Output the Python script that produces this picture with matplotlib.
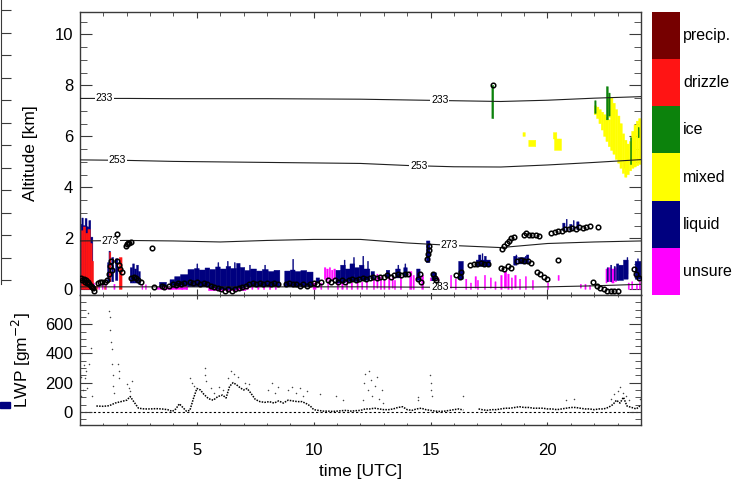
import numpy as np
import matplotlib
matplotlib.use("Agg")
import matplotlib.pyplot as plt
from matplotlib.ticker import MultipleLocator
from matplotlib.colors import ListedColormap
from matplotlib.patches import Rectangle

plt.rcParams['font.family'] = ['Liberation Sans', 'DejaVu Sans']

# ---------------------------------------------------------------- classes
class_names = ['precip.', 'drizzle', 'ice', 'mixed', 'liquid', 'unsure']
class_colors = ['#760000', '#ff1414', '#0c820c', '#ffff00', '#00007f', '#ff00ff']

# cloud-class blocks: (start [h], end [h], base [km], top [km])
liquid_blocks = [
    (0.00, 0.08, 0.0, 2.55), (0.08, 0.14, 0.0, 2.80), (0.14, 0.22, 0.0, 2.50),
    (0.22, 0.30, 0.0, 2.78), (0.30, 0.38, 0.0, 2.45), (0.38, 0.46, 0.0, 2.70),
    (0.46, 0.55, 0.0, 2.05),
    (1.18, 1.24, 0.30, 1.05), (1.24, 1.30, 0.30, 1.50), (1.36, 1.44, 0.30, 1.25),
    (1.52, 1.62, 0.35, 1.20),
    (2.15, 2.25, 0.25, 0.85), (2.25, 2.33, 0.25, 1.00), (2.33, 2.42, 0.25, 0.80),
    (2.42, 2.50, 0.25, 0.95), (2.50, 2.58, 0.20, 0.70),
    (3.40, 3.70, 0.10, 0.28), (3.85, 4.05, 0.15, 0.38), (4.05, 4.30, 0.15, 0.50),
    (4.30, 4.62, 0.15, 0.58),
    (4.62, 4.90, 0.10, 0.78), (4.90, 5.10, 0.10, 0.82), (5.10, 5.35, 0.10, 0.76),
    (5.35, 5.55, 0.10, 0.84), (5.55, 5.80, 0.05, 0.78), (5.80, 6.00, 0.00, 0.88),
    (6.00, 6.25, 0.00, 0.80), (6.25, 6.45, 0.00, 0.90), (6.45, 6.70, 0.00, 0.82),
    (6.70, 6.85, 0.05, 1.02), (6.85, 7.05, 0.05, 0.86), (7.05, 7.30, 0.10, 0.74),
    (7.30, 7.55, 0.10, 0.80), (7.55, 7.80, 0.10, 0.72), (7.80, 8.05, 0.10, 0.78),
    (8.05, 8.30, 0.10, 0.70), (8.30, 8.55, 0.10, 0.75),
    (8.76, 9.00, 0.10, 0.72), (9.00, 9.20, 0.10, 0.76), (9.20, 9.45, 0.10, 0.70),
    (9.45, 9.70, 0.10, 0.74), (9.70, 9.97, 0.10, 0.68),
    (10.10, 10.25, 0.25, 0.45),
    (10.95, 11.15, 0.25, 0.75), (11.15, 11.35, 0.25, 0.95), (11.35, 11.55, 0.30, 0.80),
    (11.55, 11.75, 0.30, 1.00), (11.75, 11.95, 0.30, 0.85), (11.95, 12.15, 0.35, 0.95),
    (12.15, 12.40, 0.35, 0.80), (12.45, 12.60, 0.40, 0.70),
    (13.10, 13.25, 0.45, 0.75), (13.50, 13.70, 0.45, 0.80), (13.85, 14.00, 0.50, 0.85),
    (14.40, 14.55, 0.35, 0.80), (14.82, 14.97, 1.05, 1.90), (15.05, 15.25, 0.30, 0.65),
    (16.20, 16.40, 0.40, 1.10), (16.95, 17.55, 0.90, 1.15), (17.05, 17.15, 1.10, 1.35),
    (17.30, 17.38, 1.10, 1.30), (18.55, 18.70, 0.95, 1.30), (18.75, 19.05, 1.00, 1.25),
    (19.10, 19.20, 1.00, 1.35),
    (20.65, 20.75, 2.30, 2.60), (20.95, 21.05, 2.30, 2.55), (21.25, 21.35, 2.35, 2.65),
    (22.55, 22.60, 0.30, 0.85), (22.70, 22.75, 0.30, 0.95), (22.85, 22.90, 0.35, 0.90),
    (22.95, 23.05, 0.35, 1.00),
    (23.05, 23.25, 0.35, 0.95), (23.25, 23.45, 0.40, 1.15), (23.75, 24.00, 0.40, 1.10),
    # narrow spikes above the liquid layers
    (5.00, 5.04, 0.60, 1.00), (5.90, 5.94, 0.60, 1.05), (6.30, 6.34, 0.60, 1.10),
    (6.60, 6.64, 0.60, 1.05), (7.25, 7.29, 0.50, 0.95), (7.90, 7.94, 0.50, 0.95),
    (9.10, 9.14, 0.50, 1.18), (11.30, 11.34, 0.60, 1.15), (11.70, 11.74, 0.60, 1.25),
    (12.10, 12.14, 0.60, 1.30), (12.30, 12.34, 0.60, 1.10), (13.60, 13.64, 0.50, 0.95),
    (13.90, 13.94, 0.60, 1.00), (17.20, 17.24, 1.00, 1.40), (18.65, 18.69, 1.00, 1.35),
    (19.05, 19.09, 1.00, 1.30), (20.80, 20.84, 2.30, 2.75), (21.10, 21.14, 2.30, 2.70),
    (23.40, 23.44, 0.60, 1.25), (23.85, 23.89, 0.60, 1.20),
]

unsure_blocks = [
    (0.55, 0.62, 0.0, 0.25), (0.80, 0.84, 0.0, 0.20), (0.95, 0.99, 0.0, 0.20),
    (1.10, 1.14, 0.0, 0.22), (1.45, 1.50, 0.0, 0.20), (2.65, 2.69, 0.0, 0.20),
    (2.80, 2.84, 0.0, 0.18), (3.30, 4.60, 0.0, 0.08), (3.90, 3.94, 0.0, 0.18),
    (4.10, 4.14, 0.0, 0.15), (4.35, 4.40, 0.0, 0.20), (4.55, 4.60, 0.0, 0.15),
    (5.50, 7.10, -0.05, 0.05),
    (7.15, 7.21, 0.0, 0.12), (7.35, 7.40, 0.0, 0.10), (7.60, 7.66, 0.0, 0.12),
    (7.85, 7.90, 0.0, 0.10), (8.10, 8.16, 0.0, 0.12), (8.35, 8.40, 0.0, 0.10),
    (9.97, 10.10, 0.0, 0.25),
    (10.45, 10.52, 0.40, 0.85), (10.55, 10.62, 0.35, 0.80), (10.66, 10.72, 0.45, 0.85),
    (10.76, 10.82, 0.35, 0.75), (10.86, 10.93, 0.40, 0.80),
    (10.30, 10.35, 0.0, 0.25), (10.60, 10.64, 0.0, 0.30),
    (11.00, 11.06, 0.0, 0.28), (11.20, 11.26, 0.0, 0.25), (11.40, 11.45, 0.0, 0.30),
    (11.60, 11.66, 0.0, 0.25), (11.85, 11.90, 0.0, 0.30), (12.05, 12.10, 0.0, 0.28),
    (12.25, 12.30, 0.0, 0.32),
    (12.55, 12.60, 0.0, 0.45), (12.70, 12.75, 0.05, 0.60),
    (12.85, 12.90, 0.0, 0.50), (13.00, 13.05, 0.0, 0.40), (13.20, 13.26, 0.0, 0.55),
    (13.35, 13.40, 0.05, 0.45), (13.45, 13.50, 0.0, 0.35), (13.70, 13.76, 0.0, 0.50),
    (14.10, 14.20, 0.0, 0.70), (14.25, 14.30, 0.0, 0.55), (14.62, 14.70, 0.0, 0.55),
    (14.98, 15.03, 0.0, 0.45), (15.30, 15.36, 0.0, 0.45), (15.45, 15.50, 0.0, 0.30),
    (15.65, 15.70, 0.0, 0.25), (15.85, 15.90, 0.05, 0.55), (16.05, 16.10, 0.0, 0.40),
    (16.50, 16.55, 0.0, 0.40), (16.70, 16.75, 0.0, 0.25), (16.90, 16.96, 0.05, 0.50),
    (17.00, 17.05, 0.0, 0.35), (17.30, 17.35, 0.0, 0.55), (17.55, 17.60, 0.05, 0.45),
    (17.75, 17.80, 0.0, 0.30), (18.00, 18.06, 0.0, 0.55), (18.15, 18.25, 0.05, 0.70),
    (18.30, 18.36, 0.0, 0.60), (18.45, 18.50, 0.0, 0.45), (18.60, 18.66, 0.05, 0.55),
    (18.80, 18.85, 0.0, 0.40), (19.05, 19.10, 0.0, 0.50), (19.35, 19.40, 0.0, 0.35),
    (20.00, 20.05, 0.0, 0.25), (20.45, 20.50, 0.35, 0.55), (21.40, 21.45, 0.05, 0.20),
    (21.60, 21.65, 0.0, 0.20), (21.80, 21.84, 0.0, 0.15),
    (22.50, 22.55, 0.25, 0.80), (22.60, 22.70, 0.30, 0.85), (22.75, 22.85, 0.25, 0.80),
    (22.90, 22.95, 0.30, 0.85),
    (23.45, 23.50, 0.0, 0.25), (23.60, 23.65, 0.0, 0.30), (23.80, 23.85, 0.0, 0.20),
    (23.93, 23.98, 0.0, 0.30),
]

drizzle_blocks = [
    (0.06, 0.14, 0.0, 2.30), (0.14, 0.24, 0.0, 2.45), (0.24, 0.34, 0.0, 2.20),
    (0.34, 0.44, 0.0, 2.35), (0.44, 0.52, 0.0, 1.80), (0.52, 0.58, 0.0, 1.10),
    (0.70, 0.75, 0.0, 0.15), (1.05, 1.09, 0.0, 0.12), (1.26, 1.32, 0.30, 1.45),
    (1.68, 1.80, 0.0, 1.25), (23.30, 23.34, 4.75, 4.98),
]

ice_blocks = [
    (17.62, 17.70, 6.70, 8.00), (22.02, 22.08, 6.90, 7.40), (22.52, 22.60, 6.65, 7.95),
    (22.62, 22.68, 6.80, 7.70), (23.55, 23.60, 4.90, 5.95), (23.88, 23.92, 5.95, 6.35),
]

mixed_blocks = [
    (18.95, 19.05, 6.00, 6.15), (19.20, 19.50, 5.60, 5.85), (20.25, 20.40, 5.90, 6.15),
    (20.30, 20.60, 5.45, 5.90),
    (22.00, 22.10, 6.85, 7.20), (22.10, 22.20, 6.70, 7.15), (22.20, 22.30, 6.50, 7.05),
    (22.30, 22.40, 6.25, 6.95), (22.40, 22.50, 6.00, 6.85), (22.50, 22.60, 5.80, 6.75),
    (22.60, 22.70, 5.60, 6.65), (22.60, 22.70, 6.75, 7.55), (22.70, 22.80, 5.45, 7.50),
    (22.80, 22.90, 5.30, 7.30), (22.90, 23.00, 5.10, 7.05), (23.00, 23.10, 4.95, 6.80),
    (23.10, 23.20, 4.75, 6.50), (23.20, 23.30, 4.55, 6.10), (23.30, 23.40, 4.40, 5.85),
    (23.40, 23.50, 4.50, 5.70), (23.50, 23.60, 4.65, 5.80), (23.60, 23.70, 4.75, 6.20),
    (23.70, 23.80, 4.80, 6.45), (23.80, 23.90, 4.85, 6.60), (23.90, 24.00, 4.90, 6.70),
]

# ceilometer cloud base [h, km]
base_t = [0.05, 0.10, 0.15, 0.20, 0.25, 0.30, 0.35, 0.40, 0.45, 0.50, 0.55, 0.60,
          0.75, 0.85, 0.95, 1.05, 1.15, 1.25, 1.30, 1.32, 1.38, 1.60, 1.65, 1.72, 1.80,
          1.57, 1.95, 2.00, 2.05, 2.10, 2.20, 3.06, 2.20, 2.30, 2.40, 2.50, 2.60, 3.15,
          3.50, 3.60, 3.80, 4.00, 4.10, 4.20, 4.30, 4.45,
          4.70, 4.85, 5.00, 5.15, 5.30, 5.45, 5.60, 5.75, 5.90, 6.05, 6.20, 6.35, 6.50,
          6.65, 6.80, 6.95, 7.10, 7.25, 7.40, 7.55, 7.70, 7.85, 8.00, 8.15, 8.30, 8.45,
          8.80, 8.95, 9.10, 9.25, 9.40, 9.55, 9.70, 9.85, 10.00, 10.15, 10.30,
          10.60, 10.75, 10.90, 11.05, 11.20, 11.35, 11.50, 11.65, 11.80, 11.95, 12.10,
          12.25, 12.40, 12.55, 12.70, 12.85, 13.00, 13.15, 13.30, 13.45, 13.60, 13.75,
          13.90, 14.05, 14.45, 14.55, 14.60, 14.85, 14.88, 14.92, 14.95, 15.10, 15.20,
          15.25, 16.10, 16.25, 16.30, 16.70, 16.85, 17.00, 17.15, 17.30, 17.45, 17.66,
          18.05, 18.15, 18.25, 18.35, 18.45, 18.55, 19.00, 19.10, 19.20, 19.35, 19.50,
          19.65, 20.15, 20.30, 20.45, 20.60, 20.75, 20.90, 21.05, 21.20, 21.35, 21.50,
          21.65, 21.80, 22.15, 18.00, 18.15, 18.30, 18.45, 18.70, 18.85, 19.00, 19.15,
          19.30, 19.55, 19.70, 19.85, 20.00, 20.45, 21.95, 22.10, 22.25, 22.40, 22.55,
          22.70, 22.85, 23.00, 23.70, 23.80, 23.90]
base_z = [0.45, 0.35, 0.40, 0.30, 0.35, 0.25, 0.30, 0.20, 0.15, 0.10, 0.05, -0.05,
          0.25, 0.30, 0.28, 0.30, 0.35, 0.60, 0.90, 1.10, 0.75, 1.10, 0.95, 0.80, 0.70,
          2.18, 1.72, 1.78, 1.80, 1.82, 1.85, 1.64, 0.45, 0.50, 0.45, 0.35, 0.30, 0.10,
          0.15, 0.10, 0.15, 0.20, 0.18, 0.25, 0.20, 0.25,
          0.30, 0.25, 0.30, 0.20, 0.25, 0.20, 0.15, 0.10, 0.05, 0.00, -0.05, 0.00, -0.05,
          0.00, 0.05, 0.10, 0.15, 0.20, 0.25, 0.20, 0.25, 0.20, 0.25, 0.20, 0.25, 0.20,
          0.20, 0.25, 0.20, 0.20, 0.15, 0.20, 0.15, 0.20, 0.25, 0.20, 0.30,
          0.35, 0.30, 0.35, 0.30, 0.35, 0.30, 0.35, 0.40, 0.35, 0.40, 0.45,
          0.40, 0.45, 0.50, 0.45, 0.50, 0.50, 0.55, 0.50, 0.55, 0.60, 0.55,
          0.60, 0.60, 0.40, 0.60, 0.30, 1.20, 1.40, 1.55, 1.70, 0.60, 0.45,
          0.35, 0.55, 0.50, 0.70, 0.95, 1.00, 1.00, 1.05, 1.00, 1.00, 8.02,
          1.60, 1.70, 1.80, 1.90, 2.00, 2.05, 2.15, 2.20, 2.15, 2.12, 2.15,
          2.10, 2.20, 2.25, 2.30, 2.30, 2.35, 2.35, 2.40, 2.35, 2.45, 2.40,
          2.45, 2.50, 2.45, 0.85, 0.80, 0.90, 0.85, 1.10, 1.15, 1.10, 1.12,
          1.05, 0.70, 0.60, 0.50, 0.40, 1.15, 0.30, 0.15, 0.05, 0.00, -0.05,
          -0.05, -0.05, -0.05, 0.80, 0.60, 0.45]

# model isotherm heights [km] on a 2-hourly grid
iso_t = [0, 2, 4, 6, 8, 10, 12, 14, 16, 18, 20, 22, 24]
iso_233 = [7.49, 7.49, 7.48, 7.48, 7.48, 7.47, 7.46, 7.43, 7.40, 7.37, 7.42, 7.50, 7.56]
iso_253 = [5.08, 5.06, 5.02, 5.00, 4.98, 4.96, 4.94, 4.86, 4.81, 4.80, 4.88, 4.98, 5.09]
iso_273 = [1.90, 1.92, 1.90, 1.86, 1.92, 1.96, 1.96, 1.82, 1.72, 1.64, 1.80, 1.86, 1.90]
iso_283 = [0.10, 0.10, 0.10, 0.10, 0.10, 0.10, 0.10, 0.09, 0.08, 0.08, 0.10, 0.14, 0.20]
iso_label_t = {233: [1.05, 15.4], 253: [1.6, 14.5], 273: [1.3, 15.8], 283: [15.4]}

# liquid water path [g m-2]
lwp_t = [0.70, 1.00, 1.25, 1.50, 1.75, 2.00, 2.15, 2.30, 2.50, 2.75, 3.00, 3.25, 3.50,
         3.75, 3.95, 4.10, 4.25, 4.40, 4.55, 4.70, 4.85, 5.00, 5.15, 5.30, 5.50, 5.70,
         5.90, 6.10, 6.25, 6.40, 6.55, 6.70, 6.85, 7.00, 7.15, 7.30, 7.50, 7.70, 7.90,
         8.10, 8.30, 8.50, 8.70, 8.90, 9.10, 9.30, 9.50, 9.70, 9.85, 10.00, 10.20,
         10.40, 10.60, 10.80, 11.00, 11.20, 11.40, 11.60, 11.80, 12.00, 12.20, 12.40,
         12.60, 12.80, 13.00, 13.20, 13.40, 13.60, 13.80, 14.00, 14.20, 14.40, 14.60,
         14.80, 15.00, 15.20, 15.40, 15.60, 15.80, 16.00, 16.20, 16.40, 16.70, 17.05,
         17.20, 17.40, 17.60, 17.80, 18.00, 18.20, 18.40, 18.60, 18.80, 19.00, 19.20,
         19.40, 19.60, 19.80, 20.00, 20.20, 20.40, 20.60, 20.80, 21.00, 21.20, 21.40,
         21.60, 21.80, 22.00, 22.20, 22.40, 22.60, 22.80, 22.95, 23.10, 23.25, 23.40,
         23.60, 23.80, 23.95]
lwp = [40, 38, 42, 60, 70, 80, 105, 70, 25, 20, 20, 22, 20,
       15, 3, 20, 55, 30, 5, 10, 90, 160, 150, 120, 90, 80,
       105, 115, 95, 175, 200, 185, 165, 150, 160, 130, 85, 70, 65,
       70, 60, 75, 60, 80, 75, 70, 70, 55, 40, 15, 10,
       5, 5, 3, 5, 8, 10, 5, 8, 10, 20, 20,
       25, 20, 15, 15, 20, 30, 35, 15, 10, 20, 25,
       15, 10, 5, 3, 5, 10, 15, 20, 12, np.nan, 20,
       15, 10, 15, 15, 20, 25, 25, 30, 35, 30, 30,
       25, 25, 25, 20, 20, 15, 20, 25, 30, 30, 25,
       20, 20, 15, 20, 20, 30, 50, 80, 60, 100, 40,
       30, 20, 40]
lwp_scatter_t = [0.03, 0.06, 0.10, 0.13, 0.17, 0.20, 0.25, 0.30, 0.35, 0.40, 0.45, 0.50,
                 1.24, 1.27, 1.30, 1.33, 1.35, 1.38, 1.40, 1.43, 1.46, 1.64, 1.66, 1.68,
                 2.02, 2.08, 2.14, 2.22, 4.72, 4.80, 4.88, 5.33, 5.35, 5.37, 5.60, 5.75,
                 5.95, 6.10, 6.35, 6.45, 6.60, 6.75, 7.05, 7.25, 8.05, 8.20, 8.35, 8.45,
                 8.90, 9.05, 9.25, 9.40, 9.55, 9.70, 10.25, 10.95, 11.25, 12.10, 12.15,
                 12.20, 12.30, 12.35, 12.45, 12.50, 12.60, 12.70, 12.80, 12.90, 12.95,
                 14.45, 14.48, 14.98, 15.00, 15.03, 15.05, 16.37, 20.80, 21.15, 22.70,
                 22.85, 23.00, 23.10, 23.25, 23.35, 23.50, 23.95]
lwp_scatter = [110, 240, 400, 150, 320, 230, 280, 160, 675, 330, 440, 110,
               690, 650, 560, 480, 430, 330, 250, 180, 130, 330, 280, 230,
               190, 160, 140, 210, 230, 200, 180, 300, 250, 210, 160, 130,
               170, 150, 230, 280, 260, 240, 200, 190, 150, 200, 130, 170,
               150, 170, 130, 160, 110, 140, 120, 110, 80, 80, 200,
               260, 150, 280, 220, 110, 180, 240, 90, 150, 60,
               100, 80, 250, 200, 150, 110, 110, 80, 85, 90,
               120, 140, 170, 130, 110, 80, 90]

# ---------------------------------------------------------------- layout
W, H = 746, 486
fig = plt.figure(figsize=(W / 100, H / 100), dpi=100)


def px_axes(x0, y0, x1, y1):
    return fig.add_axes([x0 / W, 1 - y1 / H, (x1 - x0) / W, (y1 - y0) / H])


ax = px_axes(80, 12, 641, 295)
axl = px_axes(80, 295, 641, 425)
cax = px_axes(652, 12, 680, 295)

spine_col = '#3a3a3a'
PT = 0.72  # points per pixel at 100 dpi


def draw_blocks(axis, blocks, color):
    b = np.asarray(blocks, dtype=float)
    bars = axis.bar(b[:, 0], b[:, 3] - b[:, 2], width=b[:, 1] - b[:, 0], bottom=b[:, 2],
                    align='edge', color=color, edgecolor=color, linewidth=0.3, zorder=2)
    for patch in bars:
        patch.set_snap(False)


# ---------------------------------------------------------------- cloud classes
draw_blocks(ax, unsure_blocks, class_colors[5])
draw_blocks(ax, liquid_blocks, class_colors[4])
draw_blocks(ax, drizzle_blocks, class_colors[1])
draw_blocks(ax, mixed_blocks, class_colors[3])
draw_blocks(ax, ice_blocks, class_colors[2])

# isotherms with inline labels
for level, heights in [(233, iso_233), (253, iso_253), (273, iso_273), (283, iso_283)]:
    ax.plot(iso_t, heights, color='#202020', lw=0.8, zorder=3)
    for tl in iso_label_t[level]:
        ax.text(tl, np.interp(tl, iso_t, heights), str(level), fontsize=7.5,
                ha='center', va='center', zorder=4,
                bbox=dict(facecolor='white', edgecolor='none', pad=0.6))

# ceilometer cloud base
ax.plot(base_t, base_z, ls='none', marker='o', ms=3.3, mfc='none', mec='k',
        mew=1.1, zorder=5)

ax.set_xlim(0, 24)
ax.set_ylim(-0.22, 10.88)
ax.set_yticks([0, 2, 4, 6, 8, 10])
ax.yaxis.set_minor_locator(MultipleLocator(0.5))
ax.set_xticks([5, 10, 15, 20])
ax.xaxis.set_minor_locator(MultipleLocator(1))
ax.tick_params(axis='x', which='major', direction='in', length=6 * PT, top=True,
               bottom=True, labelbottom=False, color=spine_col)
ax.tick_params(axis='x', which='minor', direction='in', length=3.5 * PT, top=True,
               bottom=True, color=spine_col)
ax.tick_params(axis='y', which='major', direction='in', length=12 * PT, left=True,
               right=True, labelsize=12, pad=5, color=spine_col)
ax.tick_params(axis='y', which='minor', direction='in', length=7 * PT, left=True,
               right=True, color=spine_col)
ax.set_ylabel('Altitude [km]', fontsize=12.5, labelpad=12)

# ---------------------------------------------------------------- LWP
axl.axhline(0, color='k', lw=0.8, ls=(0, (2, 2)), zorder=1)
axl.plot(lwp_t, lwp, color='k', lw=1.1, ls=(0, (1, 0.8)), zorder=3)
axl.scatter(lwp_scatter_t, lwp_scatter, s=1.2, color='#444444', linewidths=0, zorder=2)
axl.set_xlim(0, 24)
axl.set_ylim(-90, 800)
axl.set_yticks([0, 200, 400, 600])
axl.yaxis.set_minor_locator(MultipleLocator(50))
axl.set_xticks([5, 10, 15, 20])
axl.xaxis.set_minor_locator(MultipleLocator(1))
axl.tick_params(axis='x', which='major', direction='in', length=3.5 * PT, top=True,
                bottom=True, labelsize=12, pad=13, color=spine_col)
axl.tick_params(axis='x', which='minor', direction='in', length=2.5 * PT, top=True,
                bottom=True, color=spine_col)
axl.tick_params(axis='y', which='major', direction='in', length=12 * PT, left=True,
                right=True, labelsize=12, pad=5, color=spine_col)
axl.tick_params(axis='y', which='minor', direction='in', length=6 * PT, left=True,
                right=True, color=spine_col)
axl.set_ylabel('LWP [gm$^{-2}$]', fontsize=12.5, labelpad=9)
axl.set_xlabel('time [UTC]', fontsize=12.5, labelpad=4)

for a in (ax, axl):
    for s in a.spines.values():
        s.set_color(spine_col)
        s.set_linewidth(1.0)

# ---------------------------------------------------------------- class legend
cax.imshow(np.arange(len(class_names)).reshape(-1, 1), cmap=ListedColormap(class_colors),
           aspect='auto', interpolation='nearest', extent=(0, 1, len(class_names), 0))
cax.set_xlim(0, 1)
cax.set_ylim(len(class_names), 0)
cax.set_axis_off()
for i, name in enumerate(class_names):
    cax.text(1.11, i + 0.5, name, transform=cax.transData, fontsize=11.5,
             ha='left', va='center', clip_on=False)

# edge of the neighbouring panel at the left margin
edge = px_axes(1, 0, 11, 284)
edge.set_ylim(284, 0)
edge.set_xlim(0, 1)
edge.set_yticks(np.arange(10, 284, 22.5))
edge.set_xticks([])
edge.tick_params(axis='y', direction='in', length=10 * PT, labelleft=False,
                 color=spine_col)
for name, s in edge.spines.items():
    s.set_visible(name == 'left')
edge.spines['left'].set_color(spine_col)
edge.patch.set_alpha(0)
fig.patches.append(Rectangle((0, 1 - 408 / H), 10 / W, 6 / H, transform=fig.transFigure,
                             color=class_colors[4]))

fig.savefig('out.png', dpi=100)
